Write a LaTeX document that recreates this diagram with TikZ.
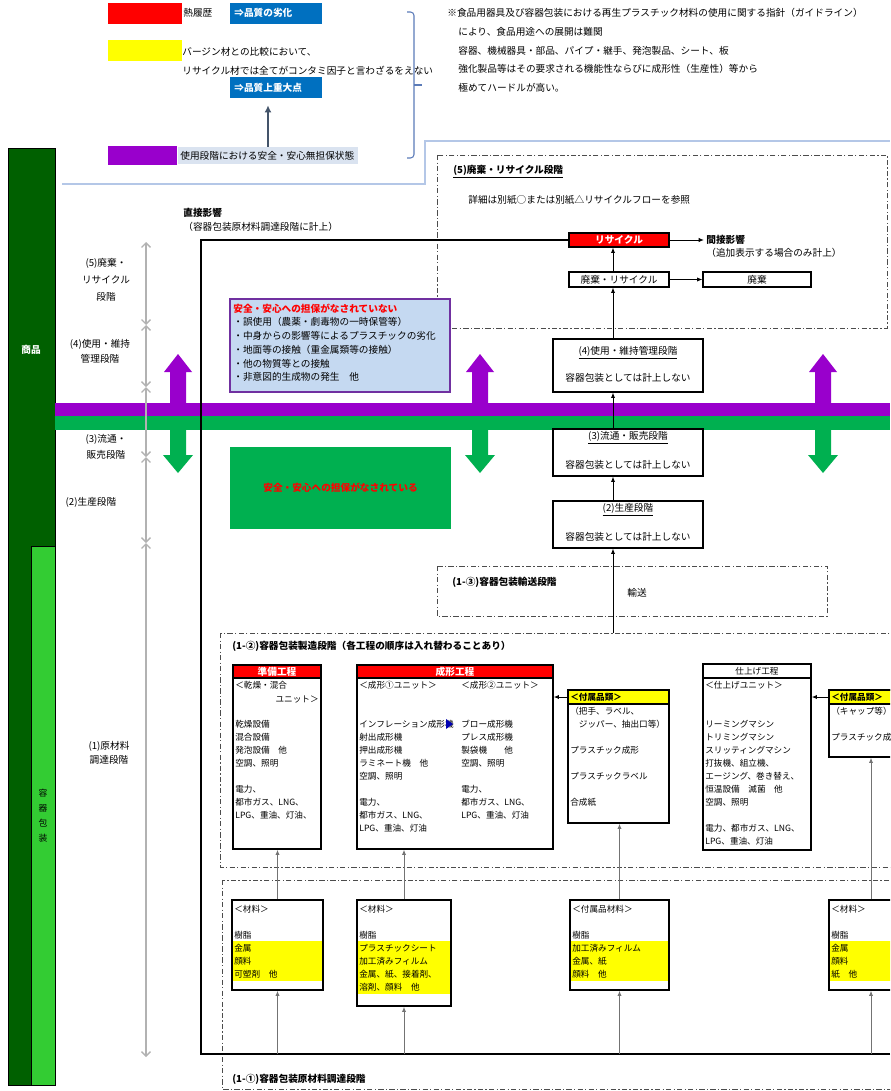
\documentclass[tikz,border=0pt]{standalone}
\usepackage{fontspec}
\setmainfont{Noto Sans CJK JP}
\usetikzlibrary{arrows.meta,fit}

\definecolor{legred}{HTML}{FF0000}
\definecolor{legblue}{HTML}{0070C0}
\definecolor{legyellow}{HTML}{FFFF00}
\definecolor{legpurple}{HTML}{9900CC}
\definecolor{legpale}{HTML}{DAE3F0}
\definecolor{bandgreen}{HTML}{00B050}
\definecolor{darkbar}{HTML}{006000}
\definecolor{lightbar}{HTML}{33CC33}
\definecolor{paleblue}{HTML}{C5D9F1}
\definecolor{boxpurple}{HTML}{7030A0}
\definecolor{rulecol}{HTML}{B4C7E7}
\definecolor{bracecol}{HTML}{5B7BB8}
\definecolor{arrowcol}{HTML}{44546A}

\tikzset{
  every node/.style={inner sep=0pt, font=\fontsize{5.5}{7.8}\selectfont},
  bftxt/.style={font=\fontsize{5.5}{7.8}\selectfont\bfseries},
  legtxt/.style={text=white, font=\fontsize{5.5}{7.8}\selectfont\bfseries},
  celltxt/.style={anchor=north west, align=left, font=\fontsize{4.9}{7.4}\selectfont},
  cellbox/.style={draw, line width=0.8pt, fill=white},
  matbox/.style={draw, line width=0.8pt},
  stagebox/.style={draw, line width=0.7pt, fill=white},
  dashframe/.style={draw=black!70, line width=0.5pt, dash pattern=on 3pt off 1.3pt on 0.7pt off 1.3pt},
  arr/.style={-{Latex[length=3pt,width=2.4pt]}, line width=0.5pt},
  garr/.style={arr, draw=black!55},
  stagebar/.style={draw=black!30, line width=0.8pt, {Straight Barb[length=2.5pt,width=5pt]}-{Straight Barb[length=2.5pt,width=5pt]}},
}

\begin{document}
\begin{tikzpicture}[x=0.02cm, y=-0.02cm]
  \clip (0,0) rectangle (890,1091);
  % Легенда
  \node[fill=legred, fit={(108,3) (182,24)}] (legheat) {};
  \node[anchor=west] (legheattxt) at (183,13) {熱履歴};
  \node[fill=legblue, fit={(230,3) (322,24)}] (legdeg) {};
  \node[legtxt, anchor=west] (legdegtxt) at (234,13) {⇒品質の劣化};
  \node[fill=legyellow, fit={(108,40) (182,61)}] (legrec) {};
  \node[anchor=north west, align=left, font=\fontsize{5.5}{10.8}\selectfont] (legrectxt) at (182,47.2)
    {バージン材との比較において、\\リサイクル材では全てがコンタミ因子と言わざるをえない};
  \node[fill=legblue, fit={(230,77) (322,98)}] (legkey) {};
  \node[legtxt, anchor=west] (legkeytxt) at (234,87.5) {⇒品質上重大点};
  \node[fill=legpurple, fit={(108,146) (177,165)}] (legsafe) {};
  \node[fill=legpale, fit={(178,147) (358,164)}] (legsafebg) {};
  \node[anchor=west] (legsafetxt) at (180,155.5) {使用段階における安全・安心無担保状態};
  \coordinate (legarr) at (268,0);
  \draw[-{Latex[length=4pt,width=4pt]}, line width=1pt, arrowcol, shorten >=4pt]
    (legsafebg.north -| legarr) -- (legkey.south -| legarr);
  \draw[bracecol, line width=0.6pt, rounded corners=2pt] (407,12) -- (414,12) -- (414,158) -- (407,158);
  \draw[bracecol, line width=0.6pt] (414,85) -- (422,85);
  \draw[rulecol, line width=1.2pt] (62,184) -- (425,184) -- (425,141) -- (890,141);
  % Примечание
  \node[anchor=west] (guide) at (447,13)
    {※食品用器具及び容器包装における再生プラスチック材料の使用に関する指針（ガイドライン）};
  \node[anchor=north west, align=left, font=\fontsize{5.5}{10.6}\selectfont] (guidetxt) at (458,27.2)
    {により、食品用途への展開は難関\\容器、機械器具・部品、パイプ・継手、発泡製品、シート、板\\強化製品等はその要求される機能性ならびに成形性（生産性）等から\\極めてハードルが高い。};
  % Полосы слева
  \draw[fill=darkbar, line width=0.5pt] (8,148) rectangle (55,1085);
  \draw[fill=lightbar, line width=0.5pt] (31,546) rectangle (55,1085);
  \node[text=white, bftxt] (goods) at (31,350) {商品};
  \node[align=center, font=\fontsize{5}{8.5}\selectfont] (pkg) at (43,816) {容\\器\\包\\装};
  % Рамки
  \draw[dashframe] (437,155) rectangle (887,328);
  \draw[dashframe] (437,566) rectangle (827,616);
  \draw[dashframe] (220,633) rectangle (900,867);
  \draw[dashframe] (222,880) rectangle (900,1089);
  % Полосы и стрелки
  \fill[legpurple] (55,403) rectangle (890,416);
  \fill[bandgreen] (55,416) rectangle (890,430);
  \foreach \ax in {178,480,823} {
    \fill[legpurple] (\ax-8,403) -- (\ax-8,372) -- (\ax-14,372) -- (\ax,354) -- (\ax+14,372) -- (\ax+8,372) -- (\ax+8,403) -- cycle;
    \fill[bandgreen] (\ax-8,430) -- (\ax-8,455) -- (\ax-15,455) -- (\ax,473) -- (\ax+15,455) -- (\ax+8,455) -- (\ax+8,430) -- cycle;
  }
  % Шкала стадий
  \foreach \y [count=\i] in {242,325,387,457,543,1057}
    \coordinate (mark\i) at (146,\y);
  \foreach \i [evaluate=\i as \j using int(\i+1)] in {1,...,5}
    \draw[stagebar] (mark\i) -- (mark\j);
  \node[align=center, font=\fontsize{5.5}{9.5}\selectfont] (lab5) at (106,280) {(5)廃棄・\\リサイクル\\段階};
  \node[align=center, font=\fontsize{5.5}{8.6}\selectfont] (lab4) at (100,351) {(4)使用・維持\\管理段階};
  \node[align=center, font=\fontsize{5.5}{8.9}\selectfont] (lab3) at (106,447) {(3)流通・\\販売段階};
  \node (lab2) at (91,502) {(2)生産段階};
  \node[align=center, font=\fontsize{5.5}{7.8}\selectfont] (lab1) at (109,753) {(1)原材料\\調達段階};
  % Блок (5)
  \node[bftxt, anchor=west] (s5title) at (453,172) {\underline{(5)廃棄・リサイクル段階}};
  \node[anchor=west] (s5note) at (468,200) {詳細は別紙○または別紙△リサイクルフローを参照};
  \node[stagebox, fill=legred, fit={(569,233) (669,247)}] (recyc) {};
  \node[text=white, bftxt] (recyctxt) at (recyc.center) {リサイクル};
  \node[stagebox, fit={(569,272) (669,287)}] (dispr) {};
  \node (disprtxt) at (dispr.center) {廃棄・リサイクル};
  \node[stagebox, fit={(703,272) (811,287)}] (disp) {};
  \node (disptxt) at (disp.center) {廃棄};
  \coordinate (indir) at (704,240);
  \draw[arr] (recyc.east) -- (indir);
  \node[anchor=north west, align=left, font=\fontsize{5.5}{7.4}\selectfont] (indirtxt) at (706,235.2)
    {\textbf{間接影響}\\（追加表示する場合のみ計上）};
  \draw[arr] (dispr.east) -- (disp.west);
  % Прямое влияние
  \coordinate (base) at (201,1054);
  \draw[line width=0.7pt] (890,1054) -- (base) -- (201,240) -- (recyc.west);
  \node[anchor=north west, align=left, font=\fontsize{5.5}{7.8}\selectfont] (dirtxt) at (183,208.2)
    {\textbf{直接影響}\\（容器包装原材料調達段階に計上）};
  % Безопасность
  \node[draw=boxpurple, line width=1.3pt, fill=paleblue, fit={(230,299) (450,392)}] (unsafe) {};
  \node[anchor=north west, align=left, font=\fontsize{5.5}{7.85}\selectfont] (unsafetxt) at (233,303.2)
    {\textcolor{legred}{\bfseries 安全・安心への担保がなされていない}\\
     ・誤使用（農薬・劇毒物の一時保管等）\\
     ・中身からの影響等によるプラスチックの劣化\\
     ・地面等の接触（重金属類等の接触）\\
     ・他の物質等との接触\\
     ・非意図的生成物の発生　他};
  \node[fill=bandgreen, fit={(230,447) (451,529)}] (safe) {};
  \node[bftxt, text=legred] (safetxt) at (safe.center) {安全・安心への担保がなされている};
  % Стадии 4, 3, 2
  \node[stagebox, fit={(553,339) (703,392)}] (s4) {};
  \node (s4title) at (628,353) {\underline{(4)使用・維持管理段階}};
  \node (s4txt) at (628,378) {容器包装としては計上しない};
  \node[stagebox, fit={(553,429) (703,476)}] (s3) {};
  \node (s3title) at (628,438) {\underline{(3)流通・販売段階}};
  \node (s3txt) at (628,465) {容器包装としては計上しない};
  \node[stagebox, fit={(553,501) (703,548)}] (s2) {};
  \node (s2title) at (628,510) {\underline{(2)生産段階}};
  \node (s2txt) at (628,537) {容器包装としては計上しない};
  % Стадия 1-3
  \node[bftxt, anchor=west] (s13title) at (452,582) {(1-③)容器包装輸送段階};
  \node[anchor=west] (s13txt) at (627,593) {輸送};
  \coordinate (spine) at (613,633);
  \draw[arr] (spine) -- (spine |- s2.south);
  \draw[arr] (s2.north -| spine) -- (s3.south -| spine);
  \draw[arr] (s3.north -| spine) -- (s4.south -| spine);
  \draw[arr] (s4.north -| spine) -- (dispr.south -| spine);
  \draw[arr] (dispr.north -| spine) -- (recyc.south -| spine);
  % Стадия 1-2
  \node[bftxt, anchor=west] (s12title) at (232,646) {(1-②)容器包装製造段階（各工程の順序は入れ替わることあり）};
  \node[cellbox, fit={(233,665) (321,849)}] (prep) {};
  \node[draw, line width=0.8pt, fill=legred, fit={(233,665) (321,678)}] (preph) {};
  \node[legtxt] (prephtxt) at (preph.center) {準備工程};
  \node[celltxt] (preptxt) at (235,680.7)
    {＜乾燥・混合\\[14.8pt]乾燥設備\\混合設備\\発泡設備　他\\空調、照明\\[7.4pt]電力、\\都市ガス、LNG、\\LPG、重油、灯油、};
  \node[anchor=east, font=\fontsize{4.9}{7.4}\selectfont] (prepunit) at (319,699) {ユニット＞};
  \node[cellbox, fit={(357,665) (553,849)}] (mold) {};
  \node[draw, line width=0.8pt, fill=legred, fit={(357,665) (553,678)}] (moldh) {};
  \node[legtxt] (moldhtxt) at (moldh.center) {成形工程};
  \node[celltxt] (mold1txt) at (359,680.7)
    {＜成形①ユニット＞\\[14.8pt]インフレーション成形機\\射出成形機\\押出成形機\\ラミネート機　他\\空調、照明\\[7.4pt]電力、\\都市ガス、LNG、\\LPG、重油、灯油};
  \node[celltxt] (mold2txt) at (461,680.7)
    {＜成形②ユニット＞\\[14.8pt]ブロー成形機\\プレス成形機\\製袋機　　他\\空調、照明\\[7.4pt]電力、\\都市ガス、LNG、\\LPG、重油、灯油};
  \fill[blue!70!black] (446,719) -- (453,724) -- (446,729) -- cycle;
  \node[cellbox, fit={(568,690) (669,823)}] (acc1) {};
  \node[draw, line width=0.8pt, fill=legyellow, fit={(568,690) (669,704)}] (acc1h) {};
  \node[anchor=west, font=\fontsize{4.9}{7.4}\selectfont\bfseries] (acc1htxt) at (570,697) {＜付属品類＞};
  \node[celltxt] (acc1txt) at (570,706.7)
    {（把手、ラベル、\\　ジッパー、抽出口等）\\[7.4pt]プラスチック成形\\[7.4pt]プラスチックラベル\\[7.4pt]合成紙};
  \node[cellbox, fit={(703,664) (811,850)}] (finish) {};
  \node[draw, line width=0.8pt, fit={(703,664) (811,678)}] (finishh) {};
  \node[font=\fontsize{4.9}{7.4}\selectfont] (finishhtxt) at (finishh.center) {仕上げ工程};
  \node[celltxt] (finishtxt) at (705,680.7)
    {＜仕上げユニット＞\\[14.8pt]リーミングマシン\\トリミングマシン\\スリッティングマシン\\打抜機、組立機、\\エージング、巻き替え、\\恒温設備　滅菌　他\\空調、照明\\[7.4pt]電力、都市ガス、LNG、\\LPG、重油、灯油};
  \node[cellbox, fit={(829,690) (913,757)}] (acc2) {};
  \node[draw, line width=0.8pt, fill=legyellow, fit={(829,690) (913,704)}] (acc2h) {};
  \node[anchor=west, font=\fontsize{4.9}{7.4}\selectfont\bfseries] (acc2htxt) at (831,697) {＜付属品類＞};
  \node[celltxt] (acc2txt) at (831,706.7) {（キャップ等）\\[7.4pt]プラスチック成形};
  \draw[arr] (acc1h.west) -- (acc1h.west -| mold.east);
  \draw[arr] (acc2h.west) -- (acc2h.west -| finish.east);
  % Стадия 1-1
  \node[fill=legyellow, fit={(232,941) (323,981)}] (mat1y) {};
  \node[matbox, fit={(232,900) (323,990)}] (mat1) {};
  \node[celltxt] (mat1txt) at (234,904.7) {＜材料＞\\[7.4pt]樹脂\\金属\\顔料\\可塑剤　他};
  \node[fill=legyellow, fit={(357,941) (451,994)}] (mat2y) {};
  \node[matbox, fit={(357,900) (451,1006)}] (mat2) {};
  \node[celltxt] (mat2txt) at (359,904.7) {＜材料＞\\[7.4pt]樹脂\\プラスチックシート\\加工済みフィルム\\金属、紙、接着剤、\\溶剤、顔料　他};
  \node[fill=legyellow, fit={(570,941) (669,981)}] (mat3y) {};
  \node[matbox, fit={(570,900) (669,990)}] (mat3) {};
  \node[celltxt] (mat3txt) at (572,904.7) {＜付属品材料＞\\[7.4pt]樹脂\\加工済みフィルム\\金属、紙\\顔料　他};
  \node[fill=legyellow, fit={(829,941) (913,981)}] (mat4y) {};
  \node[matbox, fit={(829,900) (913,990)}] (mat4) {};
  \node[celltxt] (mat4txt) at (831,904.7) {＜材料＞\\[7.4pt]樹脂\\金属\\顔料\\紙　他};
  \draw[garr] (mat1.north) -- (mat1.north |- prep.south);
  \draw[garr] (mat2.north) -- (mat2.north |- mold.south);
  \draw[garr] (mat3.north) -- (mat3.north |- acc1.south);
  \draw[garr] (mat4.north) -- (mat4.north |- acc2.south);
  \foreach \m in {mat1,mat2,mat3,mat4}
    \draw[garr] (\m.south |- base) -- (\m.south);
  \node[bftxt, anchor=west] (s11title) at (232,1079) {(1-①)容器包装原材料調達段階};
\end{tikzpicture}
\end{document}
